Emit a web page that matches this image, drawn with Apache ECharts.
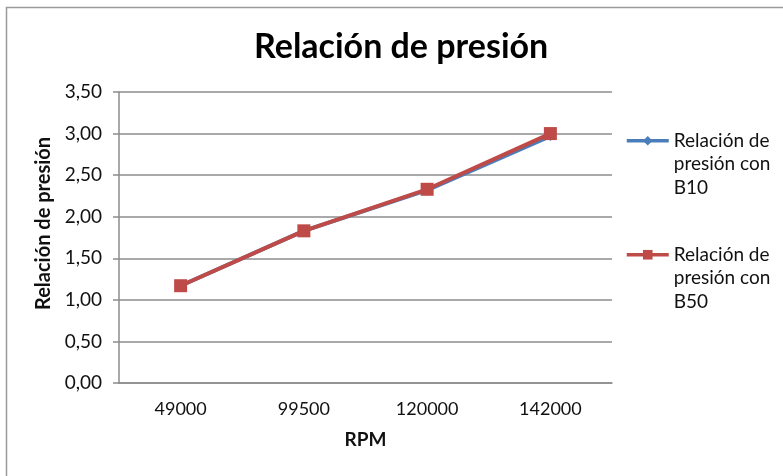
<!DOCTYPE html>
<html>
<head>
<meta charset="utf-8">
<script src="https://cdn.jsdelivr.net/npm/echarts@6/dist/echarts.min.js"></script>
<style>html,body{margin:0;padding:0;background:#fff}#c{width:783px;height:476px}</style>
</head>
<body>
<div id="c"></div>
<script>
var categories = ['49000', '99500', '120000', '142000'];
var seriesB10 = [1.17, 1.83, 2.32, 2.97];
var seriesB50 = [1.17, 1.83, 2.33, 3.00];
var nameB10 = 'Relación de\npresión con\nB10';
var nameB50 = 'Relación de\npresión con\nB50';
var titleText = 'Relación de presión';
var xName = 'RPM';
var yName = 'Relación de presión';

var FONT = 'Lato';
var chart = echarts.init(document.getElementById('c'), null, {renderer: 'canvas'});
var legendText = {fontFamily: FONT, fontSize: 19, color: '#111', lineHeight: 23.5};
function legendFmt(n) { return '\n\n' + n; }
chart.setOption({
  animation: false,
  backgroundColor: '#fff',
  graphic: [{
    type: 'rect', shape: {x: 6.5, y: 7.5, width: 800, height: 500},
    style: {fill: 'none', stroke: '#9a9a9a', lineWidth: 1.5}, silent: true, z: -1
  }],
  title: {
    text: titleText, left: 249, top: 25,
    textStyle: {fontFamily: FONT, fontSize: 34, fontWeight: 'bold', color: '#000'}
  },
  legend: [{
    data: [nameB10], orient: 'vertical', left: 620, top: 77, padding: 5,
    itemWidth: 42, itemHeight: 12, itemGap: 0, textStyle: legendText, formatter: legendFmt,
    lineStyle: {width: 3.5}
  }, {
    data: [nameB50], orient: 'vertical', left: 620, top: 191, padding: 5,
    itemWidth: 42, itemHeight: 12, itemGap: 0, textStyle: legendText, formatter: legendFmt,
    lineStyle: {width: 3.5}
  }],
  grid: {left: 119, top: 92, right: 171, bottom: 93, containLabel: false},
  xAxis: {
    type: 'category', data: categories, boundaryGap: true,
    name: xName, nameLocation: 'middle', nameGap: 47,
    nameTextStyle: {fontFamily: FONT, fontSize: 19, fontWeight: 'bold', color: '#111'},
    axisLine: {lineStyle: {color: '#8c8c8c', width: 1.5}},
    axisTick: {show: false},
    axisLabel: {fontFamily: FONT, fontSize: 18, color: '#111', margin: 17}
  },
  yAxis: {
    type: 'value', min: 0, max: 3.5, interval: 0.5,
    name: yName, nameLocation: 'middle', nameGap: 56,
    nameTextStyle: {fontFamily: FONT, fontSize: 20, fontWeight: 'bold', color: '#111', padding: [0, 0, 0, 28]},
    axisLine: {show: true, lineStyle: {color: '#8c8c8c', width: 1.5}},
    axisTick: {show: true, length: 6, lineStyle: {color: '#8c8c8c', width: 1.5}},
    splitLine: {lineStyle: {color: '#8c8c8c', width: 1.5}},
    axisLabel: {fontFamily: FONT, fontSize: 19, color: '#111', margin: 17,
      formatter: function (v) { return v.toFixed(2).replace('.', ','); }}
  },
  series: [{
    name: nameB10, type: 'line', data: seriesB10,
    symbol: 'diamond', symbolSize: 10,
    itemStyle: {color: '#4A7EBB'}, lineStyle: {color: '#4A7EBB', width: 4}, z: 2
  }, {
    name: nameB50, type: 'line', data: seriesB50,
    symbol: 'rect', symbolSize: 13,
    itemStyle: {color: '#BE4B48'}, lineStyle: {color: '#BE4B48', width: 4}, z: 3
  }]
});
</script>
</body>
</html>
